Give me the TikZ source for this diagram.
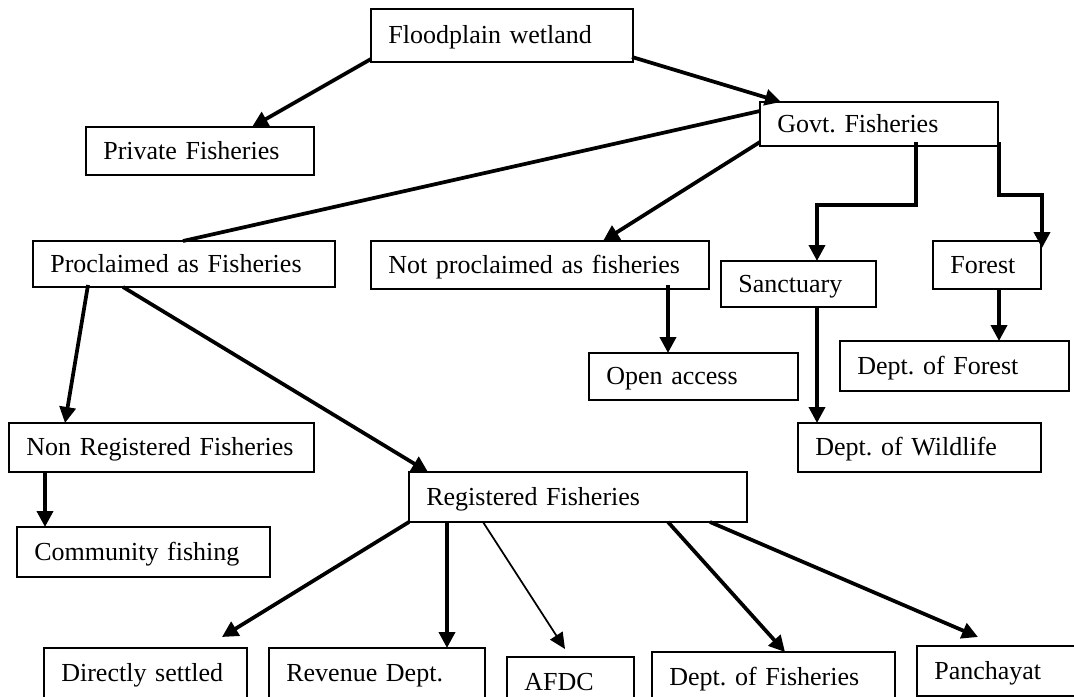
\documentclass[tikz,border=0pt]{standalone}
\usepackage{fontspec}
\setmainfont{Liberation Serif}
\usetikzlibrary{arrows.meta,calc}
\tikzset{
  box/.style={draw, line width=1.5pt, rectangle, anchor=north west,
    inner xsep=13pt, inner ysep=0pt, outer sep=0pt, align=left,
    text height=14pt, text depth=2pt,
    font=\fontsize{19.5}{24}\selectfont,
    execute at begin node={\frenchspacing\hyphenpenalty=10000\relax}},
  bw/.code={\pgfmathsetmacro\bxw{#1*0.75}\pgfmathsetmacro\bxt{#1*0.75-26}%
    \edef\bxtmp{\noexpand\pgfkeysalso{minimum width=\bxw pt, text width=\bxt pt}}\bxtmp},
  bh/.code={\pgfmathsetmacro\bxh{#1*0.75}%
    \edef\bxtmp{\noexpand\pgfkeysalso{minimum height=\bxh pt}}\bxtmp},
  arr/.style={line width=2.8pt, -{Triangle[length=12pt,width=12pt]}},
  thinarr/.style={line width=1.3pt, -{Triangle[length=12pt,width=11pt]}},
  link/.style={line width=2.8pt},
}
\begin{document}
\begin{tikzpicture}[x=0.75pt,y=-0.75pt]
\useasboundingbox (0,0) rectangle (1074,696);
\clip (0,0) rectangle (1074,696);
% boxes
\node[box,bw=262,bh=53] (fp) at (371,9) {Floodplain wetland};
\node[box,bw=228,bh=48] (pf) at (86,127) {Private Fisheries};
\node[box,bw=238,bh=44] (gf) at (760,102) {Govt. Fisheries};
\node[box,bw=302,bh=46] (pr) at (33,241) {Proclaimed as Fisheries};
\node[box,bw=338,bh=48] (np) at (371,241) {Not proclaimed as fisheries};
\node[box,bw=155,bh=46] (sa) at (721,261) {Sanctuary};
\node[box,bw=108,bh=48] (fo) at (933,241) {Forest};
\node[box,bw=209,bh=47] (oa) at (589,353) {Open access};
\node[box,bw=229,bh=50] (dfo) at (840,341) {Dept. of Forest};
\node[box,bw=243,bh=49] (dw) at (798,423) {Dept. of Wildlife};
\node[box,bw=305,bh=49] (nr) at (9,423) {Non Registered Fisheries};
\node[box,bw=253,bh=50] (cf) at (17,527) {Community fishing};
\node[box,bw=338,bh=50] (rf) at (409,472) {Registered Fisheries};
\node[box,bw=203,bh=50] (ds) at (44,648) {Directly settled};
\node[box,bw=216,bh=50] (rd) at (269,648) {Revenue Dept.};
\node[box,bw=127,bh=50] (af) at (507,657) {AFDC};
\node[box,bw=243,bh=50] (dfi) at (652,652) {Dept. of Fisheries};
\node[box,bw=170,bh=50] (pa) at (917,646) {Panchayat};
% connectors
\draw[arr] ($(fp.south west)+(0,-3)$) -- ($(pf.north west)+(166,0)$);
\draw[arr] ($(fp.south east)+(-1,-5)$) -- ($(gf.north west)+(21,0)$);
\draw[link] ($(gf.north west)+(0,9)$) -- ($(pr.north west)+(150,0)$);
\draw[arr] ($(gf.south west)+(0,-4)$) -- ($(np.north west)+(232,0)$);
\draw[arr] ($(gf.south west)+(156,-4)$) -- ++(0,63) -| ($(sa.north west)+(96,0)$);
\draw[arr] ($(gf.south east)+(1,-4)$) -- ++(0,53) -| ($(fo.north east)+(1,7)$);
\coordinate (npo) at ($(np.south west)+(297,-4)$);
\draw[arr] (npo) -- (npo |- oa.north);
\coordinate (sao) at ($(sa.south west)+(96,0)$);
\draw[arr] (sao) -- (sao |- dw.north);
\coordinate (foo) at ($(fo.south west)+(66,0)$);
\draw[arr] (foo) -- (foo |- dfo.north);
\draw[arr] ($(pr.south west)+(55,-2)$) -- ($(nr.north west)+(56,0)$);
\draw[arr] ($(pr.south west)+(90,0)$) -- ($(rf.north west)+(19,0)$);
\coordinate (nro) at ($(nr.south west)+(36,0)$);
\draw[arr] (nro) -- (nro |- cf.north);
\draw[arr] (rf.south west) -- ($(ds.north west)+(178,-11)$);
\coordinate (rdo) at ($(rf.south west)+(38,0)$);
\draw[arr] (rdo) -- (rdo |- rd.north);
\draw[thinarr] ($(rf.south west)+(74,0)$) -- ($(af.north west)+(58,-8)$);
\draw[arr] ($(rf.south west)+(259,0)$) -- ($(dfi.north west)+(133,0)$);
\draw[arr] ($(rf.south west)+(301,0)$) -- ($(pa.north west)+(61,-9)$);
\end{tikzpicture}
\end{document}
